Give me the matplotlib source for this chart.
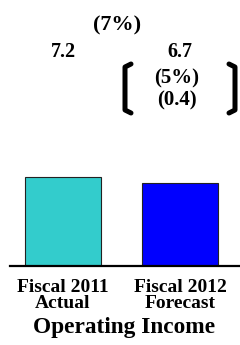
import matplotlib.pyplot as plt
from matplotlib.lines import Line2D
from matplotlib.transforms import blended_transform_factory

categories = ["Fiscal 2011\nActual", "Fiscal 2012\nForecast"]
values = [7.2, 6.7]
value_labels = ["7.2", "6.7"]
colors = ["#33CCCC", "#0000FF"]
change_pct = "(7%)"
bracket_lines = ["(5%)", "(0.4)"]
title = "Operating Income"

plt.rcParams['font.family'] = ['Liberation Serif', 'DejaVu Serif']
plt.rcParams['font.weight'] = 'bold'

W, H = 240, 345
fig = plt.figure(figsize=(W / 100, H / 100), dpi=100)

def fx(px):
    return px / W

def fy(py):
    return 1 - py / H

# axes spans baseline x 10..240, y 40..266 px
ax = fig.add_axes([fx(10), fy(266), fx(240) - fx(10), fy(40) - fy(266)])
x = list(range(len(values)))
ax.bar(x, values, width=0.65, color=colors, edgecolor="#222222", linewidth=0.8)
ax.set_xlim(-0.453, 1.513)
ax.set_ylim(0, 18.3)
for s in ["top", "left", "right"]:
    ax.spines[s].set_visible(False)
ax.spines["bottom"].set_linewidth(1.6)
ax.set_yticks([])
ax.set_xticks([])

tr = blended_transform_factory(ax.transData, fig.transFigure)
for xi, lab in zip(x, value_labels):
    ax.text(xi, fy(52), lab, transform=tr, ha="center", va="center",
            fontsize=14.5, fontweight="bold")
for xi, lab in zip(x, categories):
    for k, line in enumerate(lab.split("\n")):
        ax.text(xi, fy(292 + 16.5 * k), line, transform=tr, ha="center",
                va="baseline", fontsize=14, fontweight="bold")

fig.text(fx(117), fy(25), change_pct, ha="center", va="center", fontsize=16, fontweight="bold")
fig.text(fx(177), fy(78), bracket_lines[0], ha="center", va="center", fontsize=15, fontweight="bold")
fig.text(fx(177), fy(100), bracket_lines[1], ha="center", va="center", fontsize=15, fontweight="bold")
fig.text(fx(124), fy(333), title, ha="center", va="baseline", fontsize=16.8, fontweight="bold")

# brackets around the change
def bracket(xs, xe):
    xs_ = [fx(xe), fx(xs), fx(xs), fx(xe)]
    ys_ = [fy(64), fy(67), fy(110), fy(113)]
    fig.add_artist(Line2D(xs_, ys_, color="black", linewidth=3.6,
                          solid_capstyle="round", solid_joinstyle="round"))

bracket(125, 131)
bracket(235, 229)

fig.savefig("out.png", dpi=100)
